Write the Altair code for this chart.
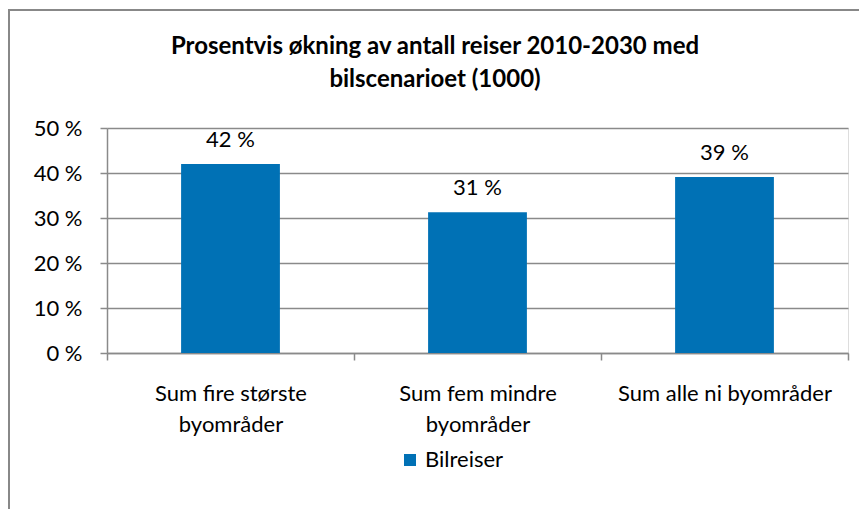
import altair as alt
import pandas as pd

categories = ["Sum fire største\nbyområder", "Sum fem mindre\nbyområder", "Sum alle ni byområder"]
values = [0.420, 0.313, 0.391]
series = ["Bilreiser", "Bilreiser", "Bilreiser"]
title_lines = ["Prosentvis økning av antall reiser 2010-2030 med", "bilscenarioet (1000)"]
y_ticks = [0, 0.1, 0.2, 0.3, 0.4, 0.5]

df = pd.DataFrame({"category": categories, "value": values, "series": series})

W, H = 741, 225
FONT = "Lato"
BLUE = "#0071B5"
GRID = "#8A8A8A"
FRAME = "#888888"

x = alt.X(
    "category:N", sort=categories, title=None,
    scale=alt.Scale(paddingInner=0, paddingOuter=0),
    axis=alt.Axis(
        labelAngle=0, labelExpr="split(datum.label, '\\n')", tickBand="extent",
        tickSize=7, domainColor=GRID, tickColor=GRID, domainWidth=1.5, tickWidth=1.5,
        labelFont=FONT, labelFontSize=22, labelColor="black", labelLineHeight=31,
        labelPadding=23, labelBaseline="top", labelLimit=400, grid=False,
    ),
)
y = alt.Y(
    "value:Q", title=None, scale=alt.Scale(domain=[0, 0.5], nice=False),
    axis=alt.Axis(
        values=y_ticks, labelExpr="format(datum.value * 100, '.0f') + ' %'",
        tickSize=7, labelPadding=18, domainColor=GRID, tickColor=GRID,
        domainWidth=1.5, tickWidth=1.5, grid=True, gridColor=GRID, gridWidth=1.5,
        labelFont=FONT, labelFontSize=22, labelColor="black",
    ),
)

frame_left = alt.Chart(alt.Data(values=[{}])).mark_rule(
    color=FRAME, strokeWidth=2
).encode(x=alt.value(-98), y=alt.value(-119), y2=alt.value(H + 300))

frame_top = alt.Chart(alt.Data(values=[{}])).mark_rule(
    color=FRAME, strokeWidth=2
).encode(x=alt.value(-99), x2=alt.value(W + 100), y=alt.value(-118))

title = alt.Chart(alt.Data(values=[{}])).mark_text(
    text=title_lines, font=FONT, fontSize=24, fontWeight="bold", color="black",
    align="center", baseline="middle", lineHeight=33,
).encode(x=alt.value(328), y=alt.value(-81))

bars = alt.Chart(df).mark_bar(width=alt.RelativeBandSize(0.4)).encode(
    x=x, y=y,
    color=alt.Color(
        "series:N",
        scale=alt.Scale(domain=["Bilreiser"], range=[BLUE]),
        legend=alt.Legend(
            title=None, orient="none", legendX=292, legendY=321, padding=0,
            symbolType="square", symbolSize=144, symbolStrokeWidth=0,
            labelFont=FONT, labelFontSize=22, labelColor="black", labelOffset=4,
        ),
    ),
)

labels = alt.Chart(df).transform_calculate(
    label="format(datum.value * 100, '.0f') + ' %'"
).mark_text(
    baseline="bottom", dy=-12, font=FONT, fontSize=22, color="black"
).encode(x=x, y=y, text="label:N")

chart = alt.layer(frame_left, frame_top, title, bars, labels).properties(
    width=W, height=H,
    padding={"left": 99, "top": 120, "right": 11, "bottom": 156},
    autosize="none",
).configure_view(strokeWidth=0).configure(background="white")

chart.save("out.html", embed_options={"renderer": "svg", "actions": False})
